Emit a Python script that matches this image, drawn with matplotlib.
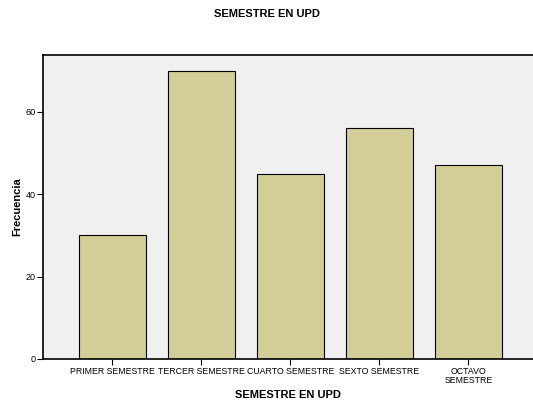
import matplotlib.pyplot as plt

categorias = ['PRIMER SEMESTRE', 'TERCER SEMESTRE', 'CUARTO SEMESTRE', 'SEXTO SEMESTRE', 'OCTAVO\nSEMESTRE']
frecuencia = [30, 70, 45, 56, 47]

plt.rcParams['font.family'] = ['Liberation Sans', 'DejaVu Sans']

fig = plt.figure(figsize=(5.33, 4.01), dpi=100)
ax = fig.add_axes([43 / 533, 42 / 401, 490 / 533, 304 / 401])
ax.set_facecolor('#f0f0f0')

x = list(range(len(categorias)))
ax.bar(x, frecuencia, width=0.75, color='#d3ce98', edgecolor='black', linewidth=0.8, zorder=2)

ax.set_xlim(-0.78, 4.725)
ax.set_ylim(0, 73.8)
ax.set_yticks([0, 20, 40, 60])
ax.set_xticks(x)
ax.set_xticklabels(categorias, fontsize=6.3, linespacing=0.95)
ax.tick_params(axis='y', labelsize=6.5, length=4, width=0.8, pad=1)
ax.tick_params(axis='x', length=4, width=0.8, pad=2)

ax.spines['right'].set_visible(False)
for s in ['left', 'top', 'bottom']:
    ax.spines[s].set_linewidth(1.2)

ax.set_ylabel('Frecuencia', fontsize=8, fontweight='bold', labelpad=3)
fig.text(0.5, 1 - 14 / 401, 'SEMESTRE EN UPD', ha='center', va='center', fontsize=8, fontweight='bold')
fig.text(288 / 533, 1 - 395 / 401, 'SEMESTRE EN UPD', ha='center', va='center', fontsize=8, fontweight='bold')

fig.savefig('out.png', dpi=100)
